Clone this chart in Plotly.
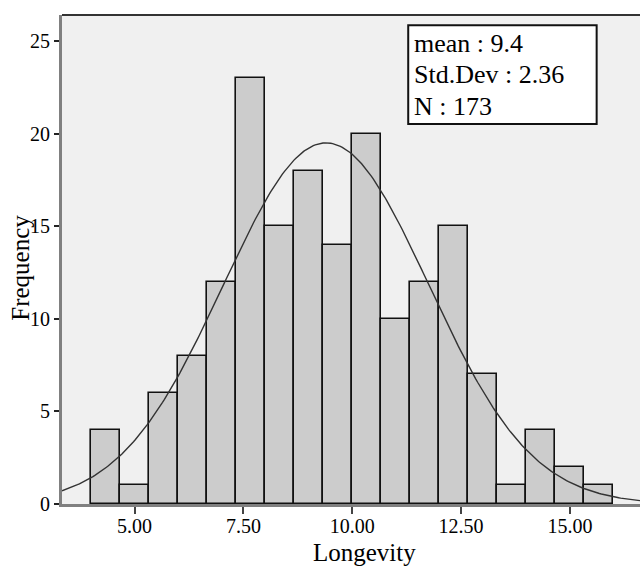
import math
import plotly.graph_objects as go

# ── Data ─────────────────────────────────────────────────────────────────
BIN_START = 4.0
BIN_WIDTH = 2.0 / 3.0
COUNTS = [4, 1, 6, 8, 12, 23, 15, 18, 14, 20, 10, 12, 15, 7, 1, 4, 2, 1]

MEAN = 9.4
STD_DEV = 2.36
N_OBS = 173

X_TICKS = [5.0, 7.5, 10.0, 12.5, 15.0]
X_TICK_LABELS = ["5.00", "7.50", "10.00", "12.50", "15.00"]
Y_TICKS = [0, 5, 10, 15, 20, 25]

# ── Derived values ───────────────────────────────────────────────────────
centers = [BIN_START + BIN_WIDTH * (i + 0.5) for i in range(len(COUNTS))]

X_MIN, X_MAX = 3.333, 16.61
n_pts = 300
curve_x = [X_MIN + (X_MAX - X_MIN) * i / (n_pts - 1) for i in range(n_pts)]
# normal curve fitted from the stats shown in the box
scale = N_OBS * BIN_WIDTH / (STD_DEV * math.sqrt(2 * math.pi))
curve_y = [scale * math.exp(-0.5 * ((x - MEAN) / STD_DEV) ** 2) for x in curve_x]

FONT = "Liberation Serif, Times New Roman, serif"

fig = go.Figure()

fig.add_trace(go.Bar(
    x=centers, y=COUNTS, width=BIN_WIDTH,
    marker=dict(color="#cccccc", line=dict(color="#111111", width=1.6)),
    showlegend=False, hoverinfo="x+y",
))

fig.add_trace(go.Scatter(
    x=curve_x, y=curve_y, mode="lines",
    line=dict(color="#333333", width=1.4),
    showlegend=False, hoverinfo="skip",
))

# top frame line
fig.add_shape(type="line", xref="paper", yref="paper",
              x0=0, x1=1, y0=1, y1=1,
              line=dict(color="#333333", width=2))

# stats box
fig.add_shape(type="rect", xref="paper", yref="paper",
              x0=0.599, x1=0.925, y0=0.777, y1=0.979,
              fillcolor="white", line=dict(color="#111111", width=2))

stats_lines = [f"mean : {MEAN}", f"Std.Dev : {STD_DEV}", f"N : {N_OBS}"]
for i, txt in enumerate(stats_lines):
    fig.add_annotation(
        text=txt, xref="paper", yref="paper",
        x=0.605, y=0.942 - i * 0.0645,
        xanchor="left", yanchor="middle", showarrow=False,
        font=dict(family=FONT, size=26, color="black"),
    )

# axis titles
fig.add_annotation(text="Frequency", xref="paper", yref="paper",
                   x=-0.071, y=0.483, textangle=-90, showarrow=False,
                   xanchor="center", yanchor="middle",
                   font=dict(family=FONT, size=25, color="black"))
fig.add_annotation(text="Longevity", xref="paper", yref="paper",
                   x=0.5225, y=-0.1, showarrow=False,
                   xanchor="center", yanchor="middle",
                   font=dict(family=FONT, size=25, color="black"))

fig.update_layout(
    width=640, height=566,
    margin=dict(l=62, r=0, t=15, b=62),
    paper_bgcolor="white",
    plot_bgcolor="#f0f0f0",
    bargap=0,
    font=dict(family=FONT, size=20, color="black"),
)

fig.update_xaxes(
    range=[X_MIN, X_MAX], automargin=False,
    tickvals=X_TICKS, ticktext=X_TICK_LABELS,
    ticks="outside", ticklen=7, tickwidth=2, tickcolor="#444444",
    ticklabelstandoff=-5,
    showgrid=False, zeroline=False,
    showline=True, linecolor="#808080", linewidth=3,
    tickfont=dict(family=FONT, size=20, color="black"),
)
fig.update_yaxes(
    range=[0, 26.4], automargin=False,
    tickvals=Y_TICKS,
    ticks="outside", ticklen=5, tickwidth=2, tickcolor="#222222",
    showgrid=False, zeroline=False,
    showline=True, linecolor="#808080", linewidth=3,
    tickfont=dict(family=FONT, size=20, color="black"),
)

# drop the default 8px page margin so the figure fills the window
fig.write_html("out.html", config={"displayModeBar": False},
               post_script="document.body.style.margin='0';")
